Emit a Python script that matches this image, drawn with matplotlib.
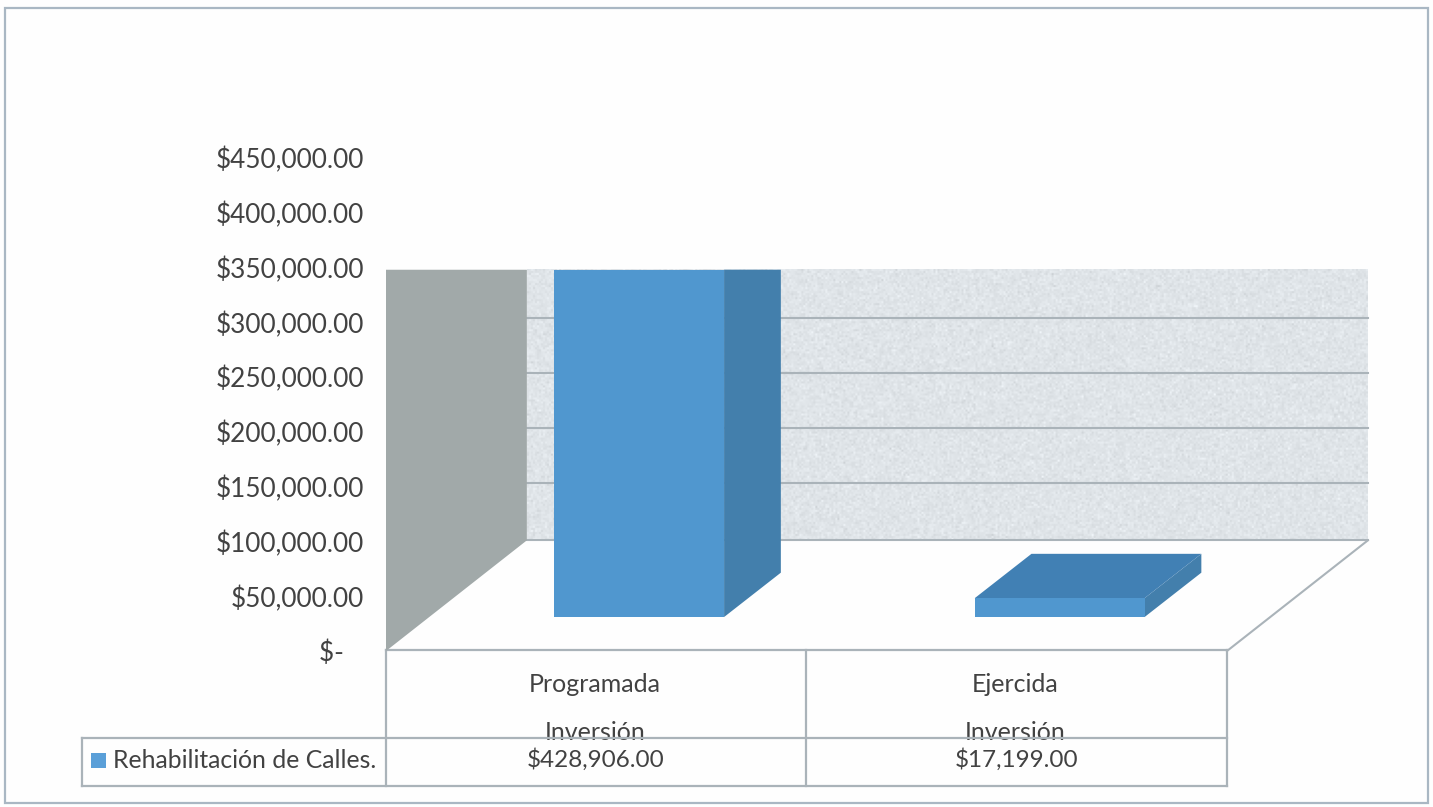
import numpy as np
import matplotlib
matplotlib.use("Agg")
import matplotlib.pyplot as plt
from matplotlib.patches import Rectangle

plt.rcParams['font.family'] = ['Lato', 'DejaVu Sans']

categories = ["Programada", "Ejercida"]
axis_title = "Inversión"
series_name = "Rehabilitación de Calles."
values = [428906.00, 17199.00]
value_labels = ["$428,906.00", "$17,199.00"]
tick_values = [0, 50000, 100000, 150000, 200000, 250000, 300000, 350000, 400000, 450000]
tick_labels = ["$-   ", "$50,000.00", "$100,000.00", "$150,000.00", "$200,000.00",
               "$250,000.00", "$300,000.00", "$350,000.00", "$400,000.00", "$450,000.00"]
wall_grid = [0, 52500, 102500, 152500, 202500]

TEXT = "#424242"
LINE = "#aab3b9"
BLUE = "#5097cf"
BLUE_SIDE = "#437fac"
BLUE_TOP = "#4180b4"

W, H = 1433, 807
fig = plt.figure(figsize=(W / 100, H / 100), dpi=100, facecolor="#fefefe")

# pixel layer for the frame and the data table
px = fig.add_axes([0, 0, 1, 1])
px.set_xlim(0, W)
px.set_ylim(H, 0)
px.axis("off")

# chart layer, front of the floor is x -0.5..1.5, y = 0
left, right, top, bottom = 386, 1227, 158, 651
ax = fig.add_axes([left / W, 1 - bottom / H, (right - left) / W, (bottom - top) / H])
ax.patch.set_alpha(0)
for s in ax.spines.values():
    s.set_visible(False)
ax.set_xticks([])
ax.set_yticks(tick_values)
ax.set_yticklabels(tick_labels, fontsize=18.8, color=TEXT)
ax.tick_params(axis="y", length=0, pad=16)

# 3d depth of the box and of the bars
depth_x = 0.335
depth_y = 101000
wall_top = 348000
bar_dx = 0.135
bar_dy = 40500
bar_width = 0.404
bar_lift = 31000
bar_shift = 0.102

# back wall with a light speckle
rng = np.random.default_rng(4)
speckle = rng.normal(0, 5, (135, 420))
wall = np.dstack([224 + speckle, 229 + speckle, 233 + speckle]).clip(0, 255).astype(np.uint8)
ax.imshow(wall, aspect="auto", zorder=1,
          extent=(-0.5 + depth_x, 1.5 + depth_x, depth_y, wall_top), clip_on=False)
ax.set_xlim(-0.5, 1.5)
ax.set_ylim(0, 450000)

for v in wall_grid:
    ax.plot([-0.5 + depth_x, 1.5 + depth_x], [v + depth_y, v + depth_y], color=LINE, lw=1.5,
            zorder=2, clip_on=False)

# side wall
ax.fill([-0.5, -0.5 + depth_x, -0.5 + depth_x, -0.5], [0, depth_y, wall_top, wall_top],
        color="#a1a9a9", lw=0, zorder=3, clip_on=False)
# right edge of the floor
ax.plot([1.5, 1.5 + depth_x], [0, depth_y], color=LINE, lw=1.5, zorder=2, clip_on=False)

for i, value in enumerate(values):
    x0 = i + bar_shift - bar_width / 2
    x1 = x0 + bar_width
    y1 = bar_lift + value
    cut = y1 > wall_top
    y1 = min(y1, wall_top)
    ax.bar(i + bar_shift, y1 - bar_lift, bottom=bar_lift, width=bar_width, color=BLUE, lw=0, zorder=5)
    side_top = wall_top if cut else y1 + bar_dy
    ax.fill([x1, x1 + bar_dx, x1 + bar_dx, x1],
            [bar_lift, bar_lift + bar_dy, side_top, y1],
            color=BLUE_SIDE, lw=0, zorder=4, clip_on=False)
    if not cut:
        ax.fill([x0, x1, x1 + bar_dx, x0 + bar_dx],
                [y1, y1, y1 + bar_dy, y1 + bar_dy],
                color=BLUE_TOP, lw=0, zorder=4, clip_on=False)

# outer frame
px.add_patch(Rectangle((5, 8), 1423, 795, fill=False, ec="#a9b7c3", lw=1.6))

# data table
cols = [386, 806, 1227]
centers = [(cols[0] + cols[1]) / 2, (cols[1] + cols[2]) / 2]
for i, name in enumerate(categories):
    px.text(centers[i] - 1, 684, name, ha="center", va="center", fontsize=18, color=TEXT)
    px.text(centers[i] - 1, 732, axis_title, ha="center", va="center", fontsize=18, color=TEXT)
# hides the lower part of the cut off title
px.add_patch(Rectangle((83, 738), 1143, 48, fc="#fefefe", ec="none", zorder=2.5))
for i, label in enumerate(value_labels):
    px.text(centers[i], 760, label, ha="center", va="center", fontsize=17.5, color=TEXT, zorder=3)

px.plot([386, 1227], [650, 650], color=LINE, lw=1.6, zorder=4)
px.plot([82, 1227], [738, 738], color=LINE, lw=1.6, zorder=4)
px.plot([82, 1227], [786, 786], color=LINE, lw=1.6, zorder=4)
px.plot([82, 82], [738, 786], color=LINE, lw=1.6, zorder=4)
for c in cols:
    px.plot([c, c], [650, 786], color=LINE, lw=1.6, zorder=4)

px.add_patch(Rectangle((91, 753), 15, 15, fc="#5a9fd8", ec="none", zorder=4))
px.text(113, 760, series_name, ha="left", va="center", fontsize=17.8, color=TEXT, zorder=4)

fig.savefig("out.png", dpi=100, facecolor=fig.get_facecolor())
